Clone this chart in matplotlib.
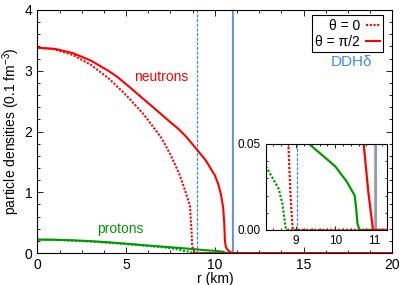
import numpy as np
import matplotlib
matplotlib.use("Agg")
import matplotlib.pyplot as plt
from matplotlib.ticker import AutoMinorLocator

plt.rcParams['font.family'] = ['Liberation Sans', 'DejaVu Sans']
plt.rcParams['mathtext.fontset'] = 'custom'
plt.rcParams['mathtext.rm'] = 'Liberation Sans'

# neutron densities, theta = pi/2 (solid)
r_n_eq = [0, 1, 2, 3, 4, 4.5, 5, 6, 7, 7.35, 8, 8.4, 9, 9.5, 10, 10.2, 10.35,
          10.47, 10.53, 10.57, 10.62, 10.67, 10.73, 10.85, 10.97, 20]
n_eq = [3.38, 3.36, 3.29, 3.17, 3.0, 2.9, 2.78, 2.53, 2.28, 2.19, 2.03, 1.91,
        1.70, 1.52, 1.28, 1.13, 0.96, 0.75, 0.5, 0.2, 0.1, 0.075, 0.05, 0.022,
        0.0, 0.0]

# neutron densities, theta = 0 (dotted)
r_n_pol = [0, 1, 2, 3, 4, 4.5, 5, 6, 6.8, 7, 7.5, 8, 8.3, 8.6, 8.68, 8.72,
           8.76, 8.8, 8.85, 8.91, 20]
n_pol = [3.38, 3.35, 3.26, 3.1, 2.88, 2.74, 2.6, 2.28, 1.97, 1.89, 1.62, 1.3,
         1.05, 0.78, 0.4, 0.15, 0.08, 0.05, 0.022, 0.0, 0.0]

# proton densities, theta = pi/2 (solid)
r_p_eq = [0, 1, 2, 3, 4, 5, 6, 7, 8, 9, 9.33, 10, 10.3, 10.5, 10.54, 10.57,
          10.62, 20]
p_eq = [0.222, 0.219, 0.21, 0.197, 0.178, 0.155, 0.13, 0.107, 0.085, 0.06,
        0.05, 0.037, 0.028, 0.02, 0.012, 0.004, 0.0, 0.0]

# proton densities, theta = 0 (dotted)
r_p_pol = [0, 1, 2, 3, 4, 5, 6, 7, 7.6, 8, 8.22, 8.4, 8.55, 8.65, 8.7, 8.74, 20]
p_pol = [0.222, 0.218, 0.205, 0.19, 0.17, 0.148, 0.124, 0.098, 0.078, 0.055,
         0.037, 0.03, 0.024, 0.015, 0.006, 0.0, 0.0]

r_dash = 9.02
r_orange = 10.99
r_blue = 11.05

red = '#ff0000'
green = '#009a00'
blue = '#3d8bf0'
orange = '#f5a050'

fig = plt.figure(figsize=(4.07, 2.85), dpi=100)
ax = fig.add_axes([0.0917, 0.112, 0.8722, 0.853])


def draw(a, lw=1.5):
    a.axvline(r_dash, color=blue, lw=0.9, ls=(0, (2.5, 1.2)))
    a.axvline(r_orange, color=orange, lw=0.9)
    a.axvline(r_blue, color=blue, lw=1.1)
    a.plot(r_p_pol, p_pol, color=green, lw=lw, ls=(0, (1, 0.8)))
    a.plot(r_p_eq, p_eq, color=green, lw=lw)
    a.plot(r_n_pol, n_pol, color=red, lw=lw, ls=(0, (1, 0.8)), label='θ = 0')
    a.plot(r_n_eq, n_eq, color=red, lw=lw, label='θ = π/2')


draw(ax)
ax.set_xlim(0, 20)
ax.set_ylim(0, 4)
ax.set_xticks([0, 5, 10, 15, 20])
ax.set_yticks([0, 1, 2, 3, 4])
ax.xaxis.set_minor_locator(AutoMinorLocator(4))
ax.yaxis.set_minor_locator(AutoMinorLocator(5))
ax.tick_params(which='both', direction='in', top=True, right=True, labelsize=10)
ax.tick_params(which='major', length=4, width=0.6)
ax.tick_params(which='minor', length=2, width=0.6)
for s in ax.spines.values():
    s.set_linewidth(0.8)
ax.set_xlabel('r (km)', fontsize=10, labelpad=0)
ax.set_ylabel('particle densities (0.1 fm$^{-3}$)', fontsize=10, labelpad=2)

ax.text(7.0, 2.9, 'neutrons', color=red, fontsize=10, ha='center', va='center')
ax.text(4.7, 0.4, 'protons', color=green, fontsize=10, ha='center', va='center')
ax.text(0.885, 0.785, 'DDHδ', color=blue, fontsize=11, ha='center',
        va='center', transform=ax.transAxes)

leg = ax.legend(loc='upper right', bbox_to_anchor=(0.983, 0.99), markerfirst=False,
                fancybox=False, edgecolor='black', framealpha=1, fontsize=10,
                handlelength=1.0, handletextpad=0.45, borderpad=0.25,
                labelspacing=0.15, borderaxespad=0.2)
leg.get_frame().set_linewidth(0.8)

ins = fig.add_axes([0.653, 0.193, 0.298, 0.302])
draw(ins, lw=1.6)
ins.set_xlim(8.22, 11.33)
ins.set_ylim(0, 0.05)
ins.set_xticks([9, 10, 11])
ins.set_yticks([0, 0.05])
ins.set_yticklabels(['0.00', '0.05'])
ins.xaxis.set_minor_locator(AutoMinorLocator(5))
ins.yaxis.set_minor_locator(AutoMinorLocator(5))
ins.tick_params(which='both', direction='in', top=True, right=True, labelsize=8.5)
ins.tick_params(which='major', length=3, width=0.6)
ins.tick_params(which='minor', length=1.5, width=0.6)
for s in ins.spines.values():
    s.set_linewidth(0.8)

fig.savefig('out.png', dpi=100)
